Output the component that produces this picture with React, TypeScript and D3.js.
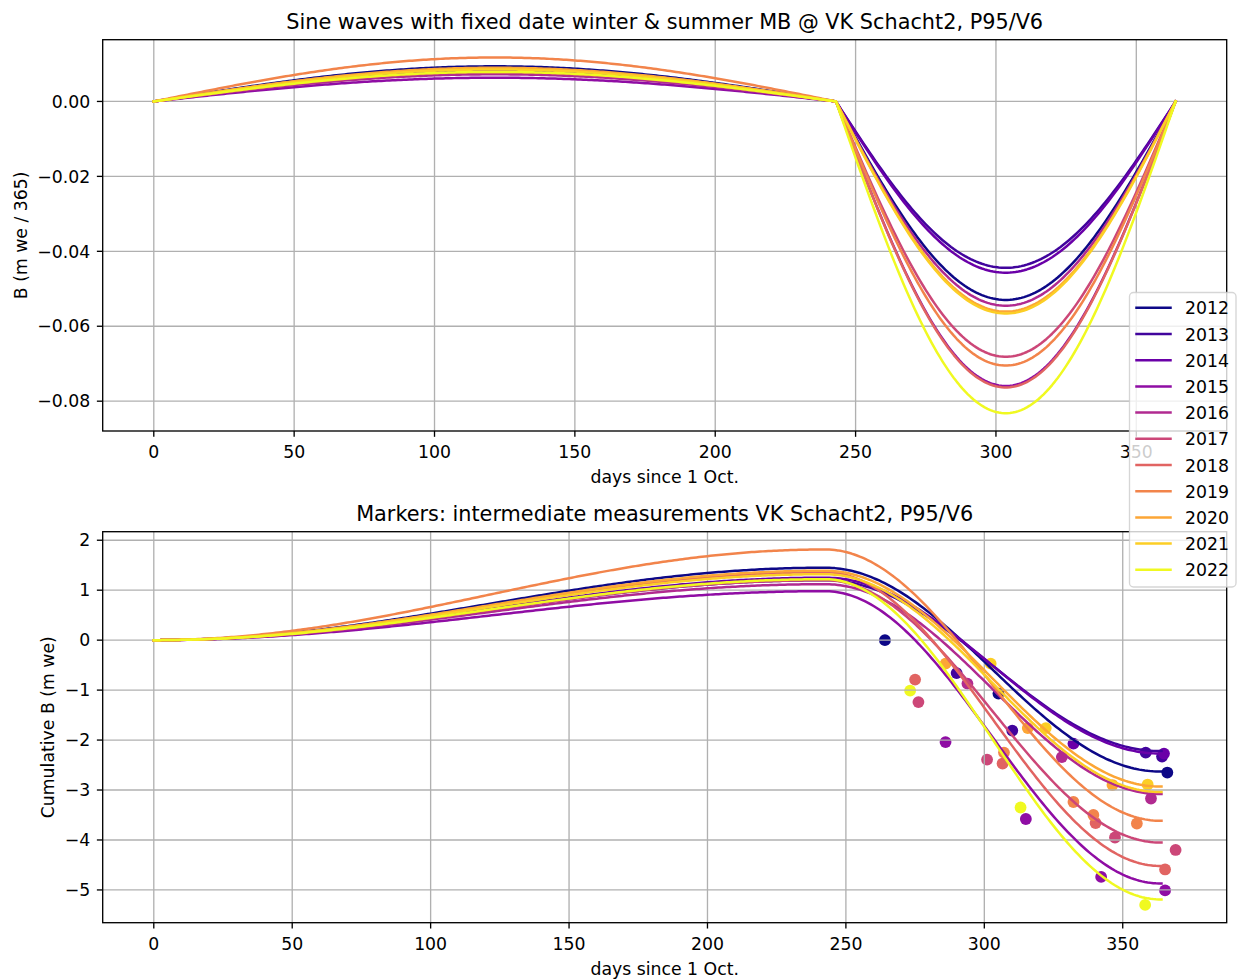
import React from 'react';
import * as d3 from 'd3';

// ---- data ----
const years = [2012, 2013, 2014, 2015, 2016, 2017, 2018, 2019, 2020, 2021, 2022];
// winter and summer mass balance (m we) per year
const winterMB = [1.45, 1.20, 1.25, 0.98, 1.12, 1.20, 1.36, 1.815, 1.39, 1.32, 1.22];
const summerMB = [-4.08, -3.42, -3.52, -5.85, -4.20, -5.25, -5.88, -5.43, -4.32, -4.36, -6.41];
const summerStartDay = 243;
const lastDay = 364;

// intermediate measurements
const markerYear = [
  2012, 2012, 2012,
  2013, 2013, 2013, 2013,
  2014, 2014,
  2015, 2015, 2015, 2015,
  2016, 2016, 2016,
  2017, 2017, 2017, 2017,
  2018, 2018, 2018, 2018,
  2019, 2019, 2019, 2019,
  2020, 2020, 2020,
  2021, 2021, 2021,
  2022, 2022, 2022,
];
const markerDay = [
  264.1, 305.1, 366.1,
  290.0, 310.1, 358.3, 364.2,
  332.2, 364.9,
  286.0, 315.0, 342.2, 365.3,
  293.9, 328.0, 360.2,
  276.2, 301.0, 347.2, 369.1,
  275.0, 306.6, 340.2, 365.3,
  307.1, 332.2, 339.4, 355.1,
  286.0, 315.7, 346.3,
  302.3, 322.2, 359.0,
  273.2, 313.1, 358.1,
];
const markerB = [
  0.0, -1.07, -2.65,
  -0.66, -1.81, -2.25, -2.33,
  -2.07, -2.27,
  -2.04, -3.58, -4.74, -5.01,
  -0.87, -2.34, -3.17,
  -1.24, -2.39, -3.95, -4.20,
  -0.79, -2.47, -3.66, -4.59,
  -2.25, -3.24, -3.50, -3.67,
  -0.47, -1.76, -2.90,
  -0.47, -1.76, -2.89,
  -1.01, -3.35, -5.30,
];

const topYTicks = [0, -0.02, -0.04, -0.06, -0.08];
const botYTicks = [2, 1, 0, -1, -2, -3, -4, -5];
const xTicks = [0, 50, 100, 150, 200, 250, 300, 350];

// ---- build the sine waves ----
const days = d3.range(0, lastDay + 1);
const winterShape = (d: number) => (d <= summerStartDay ? Math.sin((Math.PI * d) / summerStartDay) : 0);
const summerShape = (d: number) =>
  d > summerStartDay ? Math.sin((Math.PI * (d - summerStartDay)) / (lastDay - summerStartDay)) : 0;
const sumW = d3.sum(days, winterShape);
const sumS = d3.sum(days, summerShape);

const series = years.map((yr, i) => {
  const daily = days.map((d) =>
    d <= summerStartDay ? (winterMB[i] * winterShape(d)) / sumW : (summerMB[i] * summerShape(d)) / sumS
  );
  const cum = d3.cumsum(daily);
  return { yr, i, daily: Array.from(daily), cum: Array.from(cum) };
});

const markers = markerYear.map((yr, k) => ({ yr, day: markerDay[k], b: markerB[k] }));

const color = (i: number) => d3.interpolatePlasma(i / (years.length - 1));
const colorOfYear = (yr: number) => color(years.indexOf(yr));

function pad(ext: [number, number]): [number, number] {
  const m = (ext[1] - ext[0]) * 0.05;
  return [ext[0] - m, ext[1] + m];
}

const W = 1239;
const H = 980;
const L = 102.7;
const R = 1226.7;
const top1 = 39.7;
const bot1 = 431;
const top2 = 531.7;
const bot2 = 922.7;
const FONT = 'DejaVu Sans, sans-serif';
const FS = 17.3;
const TFS = 20.8;
const LW = 1.33;
const GRID = '#b0b0b0';

const fmtMinus = (s: string) => s.replace('-', '\u2212');

export default function App() {
  const allDaily = series.flatMap((s) => s.daily);
  const x1 = d3.scaleLinear().domain(pad([0, lastDay])).range([L, R]);
  const y1 = d3.scaleLinear().domain(pad(d3.extent(allDaily) as [number, number])).range([bot1, top1]);

  const allCum = series.flatMap((s) => s.cum);
  const x2 = d3
    .scaleLinear()
    .domain(pad([0, Math.max(lastDay, d3.max(markerDay) as number)]))
    .range([L, R]);
  const y2 = d3
    .scaleLinear()
    .domain(pad([Math.min(d3.min(allCum)!, d3.min(markerB)!), Math.max(d3.max(allCum)!, d3.max(markerB)!)]))
    .range([bot2, top2]);

  const line1 = d3
    .line<number>()
    .x((_, k) => x1(days[k]))
    .y((v) => y1(v));
  const line2 = d3
    .line<number>()
    .x((_, k) => x2(days[k]))
    .y((v) => y2(v));

  const axesFrame = (
    x: d3.ScaleLinear<number, number>,
    y: d3.ScaleLinear<number, number>,
    yTicks: number[],
    yFmt: (v: number) => string,
    b: number,
    key: string
  ) => (
    <g key={key}>
      {xTicks.map((v) => (
        <g key={'xt' + v}>
          <line x1={x(v)} x2={x(v)} y1={b} y2={b + 5.83} stroke="#000" strokeWidth={LW} />
          <text x={x(v)} y={b + 27.2} textAnchor="middle" fontSize={FS} fontFamily={FONT} fill="#000">
            {v}
          </text>
        </g>
      ))}
      {yTicks.map((v) => (
        <g key={'yt' + v}>
          <line x1={L - 5.83} x2={L} y1={y(v)} y2={y(v)} stroke="#000" strokeWidth={LW} />
          <text
            x={L - 12.5}
            y={y(v)}
            dy="0.36em"
            textAnchor="end"
            fontSize={FS}
            fontFamily={FONT}
            fill="#000"
          >
            {yFmt(v)}
          </text>
        </g>
      ))}
    </g>
  );

  const grid = (
    x: d3.ScaleLinear<number, number>,
    y: d3.ScaleLinear<number, number>,
    yTicks: number[],
    t: number,
    b: number,
    key: string
  ) => (
    <g key={key}>
      {xTicks.map((v) => (
        <line key={'gx' + v} x1={x(v)} x2={x(v)} y1={t} y2={b} stroke={GRID} strokeWidth={LW} />
      ))}
      {yTicks.map((v) => (
        <line key={'gy' + v} x1={L} x2={R} y1={y(v)} y2={y(v)} stroke={GRID} strokeWidth={LW} />
      ))}
    </g>
  );

  const legendX = 1129.5;
  const legendY = 292.5;
  const legendRowH = 26.2;

  return (
    <svg
      width={W}
      height={H}
      style={{ position: 'absolute', left: 0, top: 0, background: '#fff' }}
      xmlns="http://www.w3.org/2000/svg"
    >
      <rect x={0} y={0} width={W} height={H} fill="#fff" />
      <defs>
        <clipPath id="c1">
          <rect x={L} y={top1} width={R - L} height={bot1 - top1} />
        </clipPath>
        <clipPath id="c2">
          <rect x={L} y={top2} width={R - L} height={bot2 - top2} />
        </clipPath>
      </defs>

      {/* ---------- top axes ---------- */}
      {grid(x1, y1, topYTicks, top1, bot1, 'g1')}
      <g clipPath="url(#c1)">
        {series.map((s) => (
          <path
            key={'l1' + s.yr}
            d={line1(s.daily) || ''}
            fill="none"
            stroke={color(s.i)}
            strokeWidth={2.5}
            strokeLinejoin="round"
            strokeLinecap="square"
          />
        ))}
      </g>
      <rect x={L} y={top1} width={R - L} height={bot1 - top1} fill="none" stroke="#000" strokeWidth={LW} />
      {axesFrame(x1, y1, topYTicks, (v) => fmtMinus(v.toFixed(2)), bot1, 'a1')}
      <text x={(L + R) / 2} y={bot1 + 51.8} textAnchor="middle" fontSize={FS} fontFamily={FONT}>
        days since 1 Oct.
      </text>
      <text
        transform={`translate(26.5,${(top1 + bot1) / 2}) rotate(-90)`}
        textAnchor="middle"
        fontSize={FS}
        fontFamily={FONT}
      >
        B (m we / 365)
      </text>
      <text x={(L + R) / 2} y={top1 - 10.5} textAnchor="middle" fontSize={TFS} fontFamily={FONT}>
        Sine waves with fixed date winter &amp; summer MB @ VK Schacht2, P95/V6
      </text>

      {/* ---------- bottom axes ---------- */}
      <g clipPath="url(#c2)">
        {markers.map((m, k) => (
          <circle key={'m' + k} cx={x2(m.day)} cy={y2(m.b)} r={5.9} fill={colorOfYear(m.yr)} />
        ))}
      </g>
      {grid(x2, y2, botYTicks, top2, bot2, 'g2')}
      <g clipPath="url(#c2)">
        {series.map((s) => (
          <path
            key={'l2' + s.yr}
            d={line2(s.cum) || ''}
            fill="none"
            stroke={color(s.i)}
            strokeWidth={2.5}
            strokeLinejoin="round"
            strokeLinecap="square"
          />
        ))}
      </g>
      <rect x={L} y={top2} width={R - L} height={bot2 - top2} fill="none" stroke="#000" strokeWidth={LW} />
      {axesFrame(x2, y2, botYTicks, (v) => fmtMinus(String(v)), bot2, 'a2')}
      <text x={(L + R) / 2} y={bot2 + 51.8} textAnchor="middle" fontSize={FS} fontFamily={FONT}>
        days since 1 Oct.
      </text>
      <text
        transform={`translate(53.5,${(top2 + bot2) / 2}) rotate(-90)`}
        textAnchor="middle"
        fontSize={FS}
        fontFamily={FONT}
      >
        Cumulative B (m we)
      </text>
      <text x={(L + R) / 2} y={top2 - 10.5} textAnchor="middle" fontSize={TFS} fontFamily={FONT}>
        Markers: intermediate measurements VK Schacht2, P95/V6
      </text>

      {/* ---------- legend ---------- */}
      <g>
        <rect
          x={legendX}
          y={legendY}
          width={106.5}
          height={294.5}
          rx={4}
          ry={4}
          fill="#fff"
          fillOpacity={0.8}
          stroke="#cccccc"
          strokeOpacity={0.8}
          strokeWidth={1.33}
        />
        {years.map((yr, i) => {
          const yy = legendY + 15.3 + i * legendRowH;
          return (
            <g key={'lg' + yr}>
              <line
                x1={1136.5}
                x2={1170.5}
                y1={yy}
                y2={yy}
                stroke={color(i)}
                strokeWidth={2.5}
                strokeLinecap="square"
              />
              <text x={1185} y={yy + 6.5} fontSize={FS} fontFamily={FONT} fill="#000">
                {yr}
              </text>
            </g>
          );
        })}
      </g>
    </svg>
  );
}
